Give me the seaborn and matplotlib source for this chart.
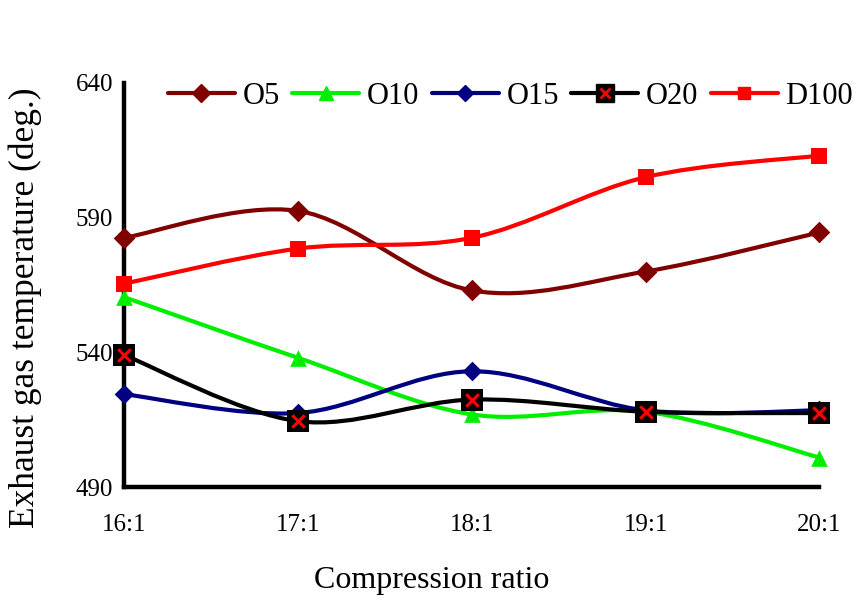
import numpy as np
import matplotlib
matplotlib.use("Agg")
import matplotlib.pyplot as plt
import seaborn as sns
from matplotlib.path import Path
from matplotlib.patches import PathPatch
from matplotlib.lines import Line2D

# data
ratio = [16, 17, 18, 19, 20]
ratio_labels = ["16:1", "17:1", "18:1", "19:1", "20:1"]
o5 = [582.5, 592.5, 563.0, 570.0, 584.5]
o10 = [560.5, 538.0, 517.0, 518.0, 501.0]
o15 = [524.5, 517.5, 533.0, 518.5, 518.5]
o20 = [539.0, 514.5, 522.5, 518.0, 517.5]
d100 = [565.5, 578.5, 582.5, 605.0, 613.0]

sns.set_theme(style="white")
plt.rcParams["font.family"] = ["Liberation Serif", "DejaVu Serif"]
plt.rcParams["text.color"] = "black"
plt.rcParams["axes.labelcolor"] = "black"


def smooth_path(x, y):
    # Catmull-Rom style bezier, like a spreadsheet "smoothed line"
    pts = np.column_stack([x, y]).astype(float)
    ext = np.vstack([pts[0], pts, pts[-1]])
    verts = [tuple(pts[0])]
    codes = [Path.MOVETO]
    for i in range(len(pts) - 1):
        p0, p1, p2, p3 = ext[i], ext[i + 1], ext[i + 2], ext[i + 3]
        c1 = p1 + (p2 - p0) / 6.0
        c2 = p2 - (p3 - p1) / 6.0
        verts += [tuple(c1), tuple(c2), tuple(p2)]
        codes += [Path.CURVE4] * 3
    return Path(verts, codes)


fig, ax = plt.subplots(figsize=(8.68, 6.09), dpi=100)
fig.subplots_adjust(left=0.143, right=0.944, bottom=0.2, top=0.864)

series = [
    ("O5", o5, "#800000", "D", 11, "#800000"),
    ("O10", o10, "#00ee00", "^", 12, "#00ee00"),
    ("O15", o15, "#000080", "D", 10, "#000080"),
    ("O20", o20, "#000000", "s", 16, "#000000"),
    ("D100", d100, "#ff0000", "s", 11, "#ff0000"),
]

handles = []
for name, vals, color, marker, msize, mcolor in series:
    patch = PathPatch(smooth_path(ratio, vals), facecolor="none", edgecolor=color,
                      lw=3, zorder=3, clip_on=False)
    ax.add_patch(patch)
    sns.scatterplot(x=ratio, y=vals, marker=marker, s=msize ** 2, color=mcolor,
                    edgecolor=mcolor, linewidth=0, zorder=4, clip_on=False, ax=ax)
    h = Line2D([], [], color=color, lw=3, marker=marker, markersize=msize * 0.8,
               markerfacecolor=mcolor, markeredgecolor=mcolor)
    if name == "O20":
        sns.scatterplot(x=ratio, y=vals, marker="x", s=80, color="#ff0000",
                        linewidth=2.2, zorder=5, clip_on=False, ax=ax)
        hx = Line2D([], [], ls="none", marker="x", markersize=7, color="#ff0000",
                    markeredgewidth=2)
        h = (h, hx)
    handles.append(h)

ax.set_xlim(16, 20)
ax.set_ylim(490, 640)
ax.set_xticks(ratio)
ax.set_xticklabels(ratio_labels)
ax.set_yticks([490, 540, 590, 640])

sns.despine(ax=ax)
for side in ["left", "bottom"]:
    ax.spines[side].set_linewidth(3.2)
    ax.spines[side].set_color("black")
ax.tick_params(axis="both", which="major", direction="out", length=7, width=3,
               color="black", labelsize=18, labelcolor="black")
ax.tick_params(axis="x", length=8, pad=11)
ax.tick_params(axis="y", pad=1)
ax.grid(False)

ax.set_xlabel("Compression ratio", fontsize=23)
ax.set_ylabel("Exhaust gas temperature (deg.)", fontsize=25.5)
ax.xaxis.set_label_coords(0.443, -0.196)
ax.yaxis.set_label_coords(-0.118, 0.443)

fig.legend(handles, [s[0] for s in series], loc="center",
           bbox_to_anchor=(0.588, 0.842), ncol=5, frameon=False, fontsize=22,
           handlelength=2.2, handletextpad=0.25, columnspacing=0.4,
           borderaxespad=0)

fig.savefig("out.png", dpi=100, facecolor="white")
